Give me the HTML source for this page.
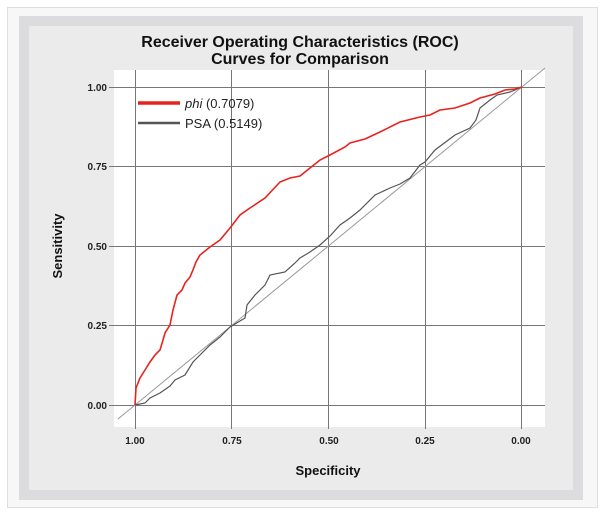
<!DOCTYPE html>
<html><head><meta charset="utf-8"><style>
html,body{margin:0;padding:0;background:#fff;}
body{width:606px;height:512px;position:relative;overflow:hidden;font-family:"Liberation Sans",sans-serif;}
</style></head><body>
<svg width="606" height="512" xmlns="http://www.w3.org/2000/svg" style="position:absolute;left:0;top:0">
<rect x="7.5" y="7.5" width="590" height="500" fill="#f7f7f7" stroke="#dedede"/>
<rect x="19" y="16" width="564" height="484" fill="#dcdcde"/>
<rect x="29" y="26" width="544" height="464" fill="#ebebeb"/>
<rect x="114" y="70" width="431" height="357" fill="#fff"/>
<g stroke="#777" stroke-width="1">
<line x1="109" y1="87.5" x2="545" y2="87.5"/>
<line x1="109" y1="166.5" x2="545" y2="166.5"/>
<line x1="109" y1="246.5" x2="545" y2="246.5"/>
<line x1="109" y1="325.5" x2="545" y2="325.5"/>
<line x1="109" y1="405.5" x2="545" y2="405.5"/>
<line x1="135.5" y1="70" x2="135.5" y2="429"/>
<line x1="231.5" y1="70" x2="231.5" y2="429"/>
<line x1="328.5" y1="70" x2="328.5" y2="429"/>
<line x1="425.5" y1="70" x2="425.5" y2="429"/>
<line x1="521.5" y1="70" x2="521.5" y2="429"/>
</g>
<line x1="118" y1="419" x2="545" y2="68" stroke="#999" stroke-width="1"/>
<polyline fill="none" stroke="#555" stroke-width="1.2" points="135,405 145,403 150,398 160,393 170,386 175,380 185,375 193,362 200,355 210,345 220,337 230,327 240,321 245,318 247,305 255,295 265,285 270,275 285,272 295,263 300,258 310,252 320,245 330,236 340,225 350,218 360,210 375,195 390,188 400,184 410,178 420,165 425,162 435,150 455,135 470,128 476,120 480,108 490,100 497,95 510,92 522,87"/>
<polyline fill="none" stroke="#e8231e" stroke-width="1.6" points="135,405 136,388 140,378 145,370 150,362 155,355 160,350 163,340 165,333 170,325 173,310 177,295 182,290 185,283 190,277 193,270 196,262 200,255 210,247 220,240 230,228 240,215 250,208 265,198 280,182 290,178 300,176 310,168 320,160 330,155 345,147 350,143 365,139 380,132 400,122 420,117 430,115 440,110 455,108 470,103 480,98 495,94 505,90 515,89 522,87"/>
<line x1="138" y1="103" x2="180" y2="103" stroke="#e8231e" stroke-width="3.5"/>
<line x1="138" y1="123" x2="180" y2="123" stroke="#555" stroke-width="2.5"/>
<text x="185" y="108" font-size="13" fill="#222"><tspan font-style="italic">phi</tspan> (0.7079)</text>
<text x="185" y="128" font-size="13" fill="#222">PSA (0.5149)</text>
<g font-size="10" font-weight="bold" fill="#222" text-anchor="end">
<text x="107" y="91">1.00</text><text x="107" y="170">0.75</text><text x="107" y="250">0.50</text><text x="107" y="329">0.25</text><text x="107" y="409">0.00</text>
</g>
<g font-size="10" font-weight="bold" fill="#222" text-anchor="middle">
<text x="135" y="444">1.00</text><text x="232" y="444">0.75</text><text x="329" y="444">0.50</text><text x="425" y="444">0.25</text><text x="521" y="444">0.00</text>
</g>
<g font-size="16" font-weight="bold" fill="#111" text-anchor="middle">
<text x="300" y="47">Receiver Operating Characteristics (ROC)</text>
<text x="300" y="64">Curves for Comparison</text>
</g>
<text x="328" y="475" font-size="13" font-weight="bold" fill="#111" text-anchor="middle">Specificity</text>
<text transform="translate(62,246) rotate(-90)" font-size="13" font-weight="bold" fill="#111" text-anchor="middle">Sensitivity</text>
</svg>
</body></html>
